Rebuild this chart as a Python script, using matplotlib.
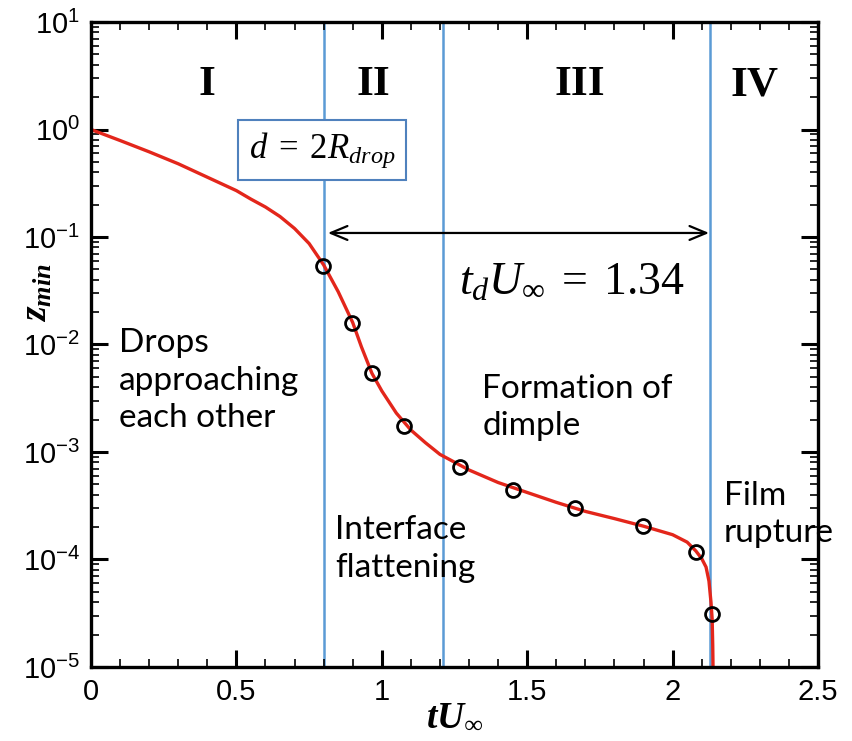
import matplotlib
matplotlib.use("Agg")
import matplotlib.pyplot as plt
from matplotlib.ticker import FixedLocator, LogLocator, NullFormatter, FuncFormatter
import numpy as np

# fonts for math text
plt.rcParams['mathtext.fontset'] = 'custom'
plt.rcParams['mathtext.rm'] = 'Liberation Serif'
plt.rcParams['mathtext.it'] = 'Liberation Serif:italic'
plt.rcParams['mathtext.bf'] = 'Liberation Serif:bold'
plt.rcParams['mathtext.bfit'] = 'Liberation Serif:bold:italic'
plt.rcParams['mathtext.sf'] = 'Liberation Sans'

# red curve
curva_t = [0.0, 0.1, 0.2, 0.3, 0.4, 0.5, 0.55, 0.6, 0.65, 0.7, 0.75, 0.8, 0.85,
           0.9, 0.93, 0.966, 1.0, 1.05, 1.1, 1.15, 1.2, 1.3, 1.4, 1.5, 1.6, 1.7,
           1.8, 1.9, 2.0, 2.05, 2.08, 2.1, 2.115, 2.125, 2.132, 2.136, 2.138, 2.139]
curva_z = [1.0, 0.79, 0.62, 0.48, 0.36, 0.27, 0.225, 0.19, 0.155, 0.12, 0.087,
           0.055, 0.031, 0.016, 0.0095, 0.0054, 0.0037, 0.0023, 0.0016, 0.00122,
           9.5e-4, 6.8e-4, 5.2e-4, 4.2e-4, 3.4e-4, 2.8e-4, 2.4e-4, 2.04e-4,
           1.7e-4, 1.45e-4, 1.2e-4, 1.02e-4, 8.5e-5, 6.3e-5, 4.0e-5, 2.8e-5,
           1.6e-5, 1.0e-5]

# circles
pontos_t = [0.798, 0.898, 0.966, 1.076, 1.268, 1.450, 1.664, 1.897, 2.080, 2.136]
pontos_z = [5.4e-2, 1.58e-2, 5.4e-3, 1.75e-3, 7.2e-4, 4.4e-4, 3.0e-4, 2.05e-4, 1.17e-4, 3.1e-5]

# region borders and labels
fronteiras = [0.8, 1.21, 2.13]
regioes = ['I', 'II', 'III', 'IV']
regioes_t = [0.40, 0.97, 1.68, 2.28]
td = 1.34

fig = plt.figure(figsize=(8.52, 7.41), dpi=100)
ax = fig.add_axes([0.1068, 0.0999, 0.8533, 0.8704])

for xb in fronteiras:
    ax.axvline(xb, color='#5b9bd5', lw=1.8, zorder=1)

ax.plot(curva_t, curva_z, color='#e3261b', lw=2.4, zorder=2)
ax.plot(pontos_t, pontos_z, 'o', ms=10, mfc='none', mec='black', mew=2, zorder=3)

ax.set_yscale('log')
ax.set_xlim(0, 2.5)
ax.set_ylim(1e-5, 10)

# ticks
ax.xaxis.set_major_locator(FixedLocator([0, 0.5, 1, 1.5, 2, 2.5]))
ax.xaxis.set_minor_locator(FixedLocator(np.arange(0, 2.51, 0.1)))
ax.xaxis.set_major_formatter(FuncFormatter(lambda v, p: '%g' % v))
ax.yaxis.set_major_locator(LogLocator(base=10, numticks=10))
ax.yaxis.set_minor_locator(LogLocator(base=10, subs=np.arange(2, 10), numticks=20))
ax.yaxis.set_minor_formatter(NullFormatter())
ax.yaxis.set_major_formatter(FuncFormatter(lambda v, p: r'$\mathsf{10^{%d}}$' % round(np.log10(v))))
ax.tick_params(which='both', direction='in', top=True, right=True, labelsize=21)
ax.tick_params(which='major', length=12, width=2.2, pad=8)
ax.tick_params(which='minor', length=6, width=1.2)
for lab in ax.get_xticklabels():
    lab.set_family('Liberation Sans')
for s in ax.spines.values():
    s.set_linewidth(2.4)

ax.set_xlabel(r'$\mathbfit{tU_\infty}$', fontsize=27)
ax.xaxis.set_label_coords(0.5, -0.048)
ax.set_ylabel(r'$\mathbfit{z_{min}}$', fontsize=27)
ax.yaxis.set_label_coords(-0.05, 0.58)

# region labels
for nome, xr in zip(regioes, regioes_t):
    ax.text(xr, 10 ** 0.41, nome, ha='center', va='center', fontsize=31,
            family='Liberation Serif', weight='bold')

# d = 2R_drop box
ax.text(0.795, 10 ** -0.19, r'$d\;=\;2R_{drop}$', ha='center', va='center', fontsize=25,
        bbox=dict(boxstyle='square,pad=0.3', fc='white', ec='#4f81bd', lw=1.5), zorder=4)

# arrow showing t_d
ax.annotate('', xy=(0.8 + td - 0.005, 0.109), xytext=(0.805, 0.109),
            arrowprops=dict(arrowstyle='<->,head_length=1.2,head_width=0.5', lw=1.6, color='black'))
ax.text(1.654, 10 ** -1.42, r'$t_d U_\infty\;=\;%.2f$' % td, ha='center', va='center', fontsize=33)

# descriptions
desc_font = 'Lato'
kw = dict(ha='left', va='top', fontsize=24, family=desc_font, linespacing=1.3)
ax.text(0.096, 10 ** -1.85, 'Drops\napproaching\neach other', **kw)
ax.text(1.345, 10 ** -2.27, 'Formation of\ndimple', **kw)
ax.text(0.839, 10 ** -3.59, 'Interface\nflattening', **kw)
ax.text(2.177, 10 ** -3.27, 'Film\nrupture', **kw)

fig.savefig('out.png', dpi=100)
